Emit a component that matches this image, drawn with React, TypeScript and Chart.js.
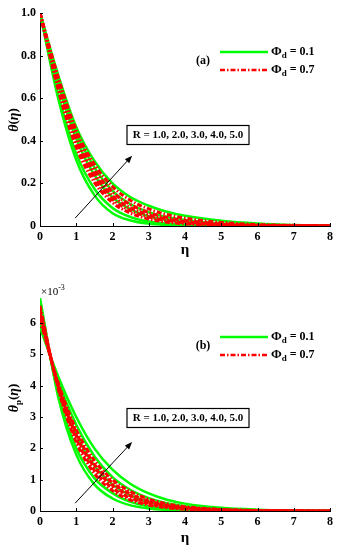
import React, { useEffect, useRef } from "react";
import { Chart, registerables } from "chart.js";
Chart.register(...registerables);

// ---------- data ----------
const eta = [0, 0.5, 1, 1.5, 2, 2.5, 3, 3.5, 4, 5, 6, 7, 8];
const rValues = ["1.0", "2.0", "3.0", "4.0", "5.0"];
const xTicks = [0, 1, 2, 3, 4, 5, 6, 7, 8];
const thetaTicks = [0, 0.2, 0.4, 0.6, 0.8, 1];
const thetaPTicks = [0, 1, 2, 3, 4, 5, 6]; // ×10^-3

// (a) θ(η), Φd = 0.1, R = 1..5
const thetaPhi01 = [
  [1, 0.6, 0.31, 0.145, 0.06, 0.026, 0.011, 0.005, 0.002, 0.0004, 0, 0, 0],
  [1, 0.62, 0.34, 0.175, 0.085, 0.042, 0.021, 0.011, 0.006, 0.0015, 0.0004, 0.0001, 0],
  [1, 0.67, 0.41, 0.24, 0.135, 0.078, 0.046, 0.028, 0.017, 0.006, 0.002, 0.0007, 0.0002],
  [1, 0.69, 0.44, 0.275, 0.165, 0.102, 0.065, 0.042, 0.028, 0.011, 0.0045, 0.0018, 0.0007],
  [1, 0.71, 0.465, 0.305, 0.2, 0.135, 0.095, 0.067, 0.048, 0.025, 0.012, 0.005, 0.002],
];
// (a) θ(η), Φd = 0.7
const thetaPhi07 = [
  [1, 0.64, 0.37, 0.205, 0.11, 0.06, 0.033, 0.018, 0.01, 0.003, 0.0009, 0.0003, 0.0001],
  [1, 0.655, 0.39, 0.225, 0.125, 0.072, 0.042, 0.025, 0.015, 0.005, 0.0017, 0.0006, 0.0002],
  [1, 0.67, 0.41, 0.245, 0.142, 0.085, 0.052, 0.032, 0.02, 0.0075, 0.0028, 0.001, 0.0004],
  [1, 0.685, 0.43, 0.265, 0.16, 0.1, 0.063, 0.04, 0.026, 0.01, 0.004, 0.0016, 0.0006],
  [1, 0.7, 0.45, 0.29, 0.185, 0.12, 0.08, 0.054, 0.037, 0.017, 0.007, 0.003, 0.0012],
];
// (b) θp(η) in units of 10^-3, Φd = 0.1
const thetaPPhi01 = [
  [6.8, 3.65, 1.8, 0.85, 0.4, 0.18, 0.08, 0.035, 0.015, 0.003, 0.0005, 0, 0],
  [6.6, 3.75, 2.0, 1.05, 0.57, 0.29, 0.15, 0.075, 0.037, 0.009, 0.002, 0.0005, 0],
  [6.25, 4.0, 2.45, 1.45, 0.85, 0.5, 0.29, 0.17, 0.1, 0.033, 0.01, 0.003, 0.001],
  [6.05, 4.15, 2.75, 1.75, 1.08, 0.67, 0.41, 0.25, 0.155, 0.058, 0.021, 0.008, 0.003],
  [5.85, 4.3, 3.0, 2.0, 1.32, 0.86, 0.56, 0.36, 0.235, 0.1, 0.042, 0.017, 0.007],
];
// (b) θp(η) in units of 10^-3, Φd = 0.7
const thetaPPhi07 = [
  [6.55, 3.9, 2.2, 1.2, 0.65, 0.35, 0.19, 0.1, 0.055, 0.016, 0.0045, 0.0013, 0.0004],
  [6.45, 3.95, 2.3, 1.3, 0.73, 0.41, 0.23, 0.13, 0.072, 0.022, 0.007, 0.002, 0.0006],
  [6.35, 4.0, 2.4, 1.4, 0.82, 0.48, 0.28, 0.16, 0.093, 0.031, 0.01, 0.0033, 0.001],
  [6.22, 4.05, 2.5, 1.5, 0.9, 0.54, 0.32, 0.19, 0.115, 0.04, 0.014, 0.005, 0.0017],
  [6.1, 4.1, 2.6, 1.62, 1.0, 0.62, 0.38, 0.23, 0.14, 0.052, 0.019, 0.007, 0.0025],
];
// arrow endpoints in data coordinates
const arrowA = [[0.97, 0.037], [2.54, 0.33]];
const arrowB = [[0.97, 0.25], [2.54, 2.2]];

// ---------- drawing helpers ----------
const FONT = "'Liberation Serif','Times New Roman',serif";
type Run = { t: string; f: string; dy?: number };

function drawRuns(ctx: CanvasRenderingContext2D, runs: Run[], x: number, y: number, align: "left" | "center") {
  let w = 0;
  runs.forEach((r) => { ctx.font = r.f; w += ctx.measureText(r.t).width; });
  let cx = align === "center" ? x - w / 2 : x;
  ctx.textBaseline = "middle";
  ctx.textAlign = "left";
  runs.forEach((r) => {
    ctx.font = r.f;
    ctx.fillText(r.t, cx, y + (r.dy || 0));
    cx += ctx.measureText(r.t).width;
  });
  return w;
}

const decorPlugin = {
  id: "decor",
  afterDraw(chart: any, _args: any, opts: any) {
    const ctx: CanvasRenderingContext2D = chart.ctx;
    const { left, right, top, bottom } = chart.chartArea;
    const xs = chart.scales.x;
    const ys = chart.scales.y;
    ctx.save();
    ctx.fillStyle = "#000";
    ctx.strokeStyle = "#000";
    // inward tick marks
    ctx.lineWidth = 1;
    ctx.beginPath();
    xs.ticks.forEach((t: any) => {
      const px = Math.round(xs.getPixelForValue(t.value)) + 0.5;
      ctx.moveTo(px, bottom);
      ctx.lineTo(px, bottom - 3);
    });
    ys.ticks.forEach((t: any) => {
      const py = Math.round(ys.getPixelForValue(t.value)) + 0.5;
      ctx.moveTo(left, py);
      ctx.lineTo(left + 3, py);
    });
    ctx.stroke();

    // x title
    drawRuns(ctx, [{ t: "η", f: `bold 15px ${FONT}` }], (left + right) / 2, opts.xTitleY, "center");

    // y title (rotated)
    ctx.save();
    ctx.translate(14, top + opts.yTitleOffset);
    ctx.rotate(-Math.PI / 2);
    const yRuns: Run[] = [{ t: "θ", f: `italic bold 14px ${FONT}` }];
    if (opts.sub) yRuns.push({ t: opts.sub, f: `bold 9px ${FONT}`, dy: 5 });
    yRuns.push({ t: "(", f: `bold 13px ${FONT}` });
    yRuns.push({ t: "η", f: `italic bold 14px ${FONT}` });
    yRuns.push({ t: ")", f: `bold 13px ${FONT}` });
    drawRuns(ctx, yRuns, 0, 0, "center");
    ctx.restore();

    // exponent label
    if (opts.exponent) {
      drawRuns(ctx, [
        { t: "×10", f: `11px ${FONT}` },
        { t: "-3", f: `8px ${FONT}`, dy: -4 },
      ], left + 1, top - 6, "left");
    }

    // legend
    const ly1 = top + 39;
    const ly2 = top + 57;
    ctx.lineWidth = 2.5;
    ctx.strokeStyle = "#00ff00";
    ctx.setLineDash([]);
    ctx.beginPath(); ctx.moveTo(220, ly1); ctx.lineTo(268, ly1); ctx.stroke();
    ctx.strokeStyle = "#ff0000";
    ctx.setLineDash([5, 2, 1.5, 2]);
    ctx.beginPath(); ctx.moveTo(220, ly2); ctx.lineTo(268, ly2); ctx.stroke();
    ctx.setLineDash([]);
    ctx.fillStyle = "#000";
    const legRuns = (v: string): Run[] => [
      { t: "Φ", f: `bold 13px ${FONT}` },
      { t: "d", f: `bold 9px ${FONT}`, dy: 4 },
      { t: " = " + v, f: `bold 12px ${FONT}` },
    ];
    drawRuns(ctx, legRuns("0.1"), 271, ly1, "left");
    drawRuns(ctx, legRuns("0.7"), 271, ly2, "left");
    drawRuns(ctx, [{ t: opts.panel, f: `bold 12px ${FONT}` }], 203, top + 48, "center");

    // parameter box
    const label = "R = " + rValues.join(", ");
    ctx.font = `bold 11px ${FONT}`;
    const tw = ctx.measureText(label).width;
    const bw = Math.max(tw + 10, 122);
    const bh = 19;
    const bx = left + 148 - bw / 2;
    const by = top + opts.boxOffset - bh / 2;
    ctx.fillStyle = "#fff";
    ctx.fillRect(bx, by, bw, bh);
    ctx.strokeStyle = "#000";
    ctx.lineWidth = 1.2;
    ctx.strokeRect(bx, by, bw, bh);
    ctx.fillStyle = "#000";
    drawRuns(ctx, [{ t: label, f: `bold 11px ${FONT}` }], bx + bw / 2, by + bh / 2 + 0.5, "center");

    // arrow
    const a = opts.arrow;
    const x1 = xs.getPixelForValue(a[0][0]);
    const y1 = ys.getPixelForValue(a[0][1]);
    const x2 = xs.getPixelForValue(a[1][0]);
    const y2 = ys.getPixelForValue(a[1][1]);
    const ang = Math.atan2(y2 - y1, x2 - x1);
    const hl = 8;
    ctx.strokeStyle = "#000";
    ctx.lineWidth = 1;
    ctx.beginPath();
    ctx.moveTo(x1, y1);
    ctx.lineTo(x2 - Math.cos(ang) * hl * 0.8, y2 - Math.sin(ang) * hl * 0.8);
    ctx.stroke();
    ctx.beginPath();
    ctx.moveTo(x2, y2);
    ctx.lineTo(x2 - hl * Math.cos(ang - 0.38), y2 - hl * Math.sin(ang - 0.38));
    ctx.lineTo(x2 - hl * Math.cos(ang + 0.38), y2 - hl * Math.sin(ang + 0.38));
    ctx.closePath();
    ctx.fill();
    ctx.restore();
  },
};

type PanelDef = {
  green: number[][];
  red: number[][];
  yMax: number;
  yTicks: number[];
  padTop: number;
  xAxisH: number;
  decor: any;
};

function makeConfig(p: PanelDef): any {
  const datasets: any[] = [];
  p.red.forEach((ys, i) =>
    datasets.push({
      label: `Φd = 0.7, R = ${rValues[i]}`,
      data: eta.map((x, j) => ({ x, y: ys[j] })),
      borderColor: "#ff0000",
      borderWidth: 3,
      borderDash: [5, 2, 1.5, 2],
      pointRadius: 0,
      cubicInterpolationMode: "monotone",
      fill: false,
    })
  );
  p.green.forEach((ys, i) =>
    datasets.push({
      label: `Φd = 0.1, R = ${rValues[i]}`,
      data: eta.map((x, j) => ({ x, y: ys[j] })),
      borderColor: "#00ff00",
      borderWidth: 2.5,
      pointRadius: 0,
      cubicInterpolationMode: "monotone",
      fill: false,
    })
  );
  const tickFont = { family: FONT, size: 12, weight: "bold" };
  const grid = { display: true, drawOnChartArea: false, drawTicks: false, color: "rgba(0,0,0,0)" };
  return {
    type: "line",
    data: { datasets },
    options: {
      animation: false,
      responsive: false,
      maintainAspectRatio: false,
      layout: { padding: { left: 0, right: 11, top: p.padTop, bottom: 0 } },
      plugins: { legend: { display: false }, tooltip: { enabled: false }, decor: p.decor },
      scales: {
        x: {
          type: "linear",
          min: 0,
          max: 8,
          afterBuildTicks: (s: any) => { s.ticks = xTicks.map((v) => ({ value: v })); },
          afterFit: (s: any) => { s.height = p.xAxisH; },
          grid,
          border: { display: true, color: "#000", width: 1 },
          ticks: { color: "#000", font: tickFont, padding: 4, maxRotation: 0, autoSkip: false },
        },
        y: {
          type: "linear",
          min: 0,
          max: p.yMax,
          afterBuildTicks: (s: any) => { s.ticks = p.yTicks.map((v) => ({ value: v })); },
          afterFit: (s: any) => { s.width = 40; },
          grid,
          border: { display: true, color: "#000", width: 1 },
          ticks: { color: "#000", font: tickFont, padding: 4, autoSkip: false },
        },
      },
    },
    plugins: [decorPlugin],
  };
}

function Panel({ def }: { def: PanelDef }) {
  const ref = useRef<HTMLCanvasElement>(null);
  useEffect(() => {
    if (!ref.current) return;
    const chart = new Chart(ref.current, makeConfig(def));
    return () => chart.destroy();
  }, [def]);
  return (
    <div style={{ width: 341, height: 275, position: "relative" }}>
      <canvas ref={ref} width={341} height={275} style={{ display: "block", width: 341, height: 275 }} />
    </div>
  );
}

const panelA: PanelDef = {
  green: thetaPhi01,
  red: thetaPhi07,
  yMax: 1,
  yTicks: thetaTicks,
  padTop: 13,
  xAxisH: 49,
  decor: { panel: "(a)", sub: "", exponent: false, xTitleY: 250, yTitleOffset: 107, boxOffset: 122, arrow: arrowA },
};
const panelB: PanelDef = {
  green: thetaPPhi01,
  red: thetaPPhi07,
  yMax: 6.8,
  yTicks: thetaPTicks,
  padTop: 23,
  xAxisH: 39,
  decor: { panel: "(b)", sub: "p", exponent: true, xTitleY: 263, yTitleOffset: 100, boxOffset: 120, arrow: arrowB },
};

export default function App() {
  return (
    <div style={{ position: "absolute", left: 0, top: 0, width: 341, height: 550, background: "#fff" }}>
      <Panel def={panelA} />
      <Panel def={panelB} />
    </div>
  );
}
